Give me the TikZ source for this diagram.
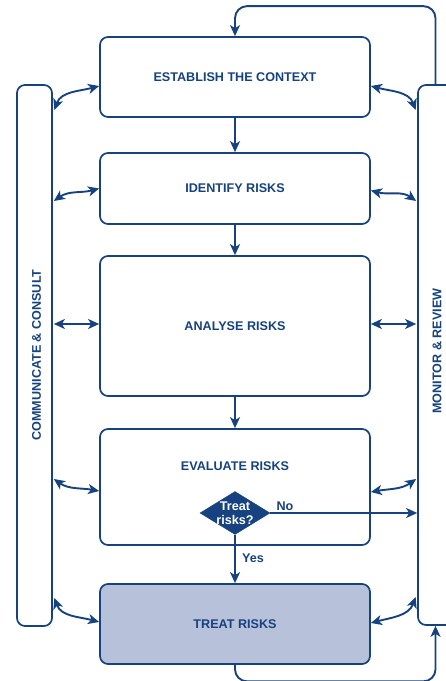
\documentclass[tikz,border=0pt]{standalone}
\usepackage{fontspec}
\setmainfont{Liberation Sans}
\usetikzlibrary{arrows.meta,shapes.geometric}
\definecolor{navy}{HTML}{16427F}
\definecolor{treatfill}{HTML}{B8C1DA}
\begin{document}
\begin{tikzpicture}[x=1pt,y=1pt,
  lbl/.style={font=\fontsize{12.6}{14}\selectfont\bfseries, text=navy},
  stage/.style={draw=navy, line width=1.7pt, rounded corners=8pt,
    minimum width=270pt, fill=white, lbl},
  sidebar/.style={draw=navy, line width=1.7pt, rounded corners=8pt, fill=white},
  tip/.style={Stealth[length=11pt,width=10pt,inset=3pt]},
  flow/.style={draw=navy, line width=1.9pt, -{Stealth[length=11pt,width=10pt,inset=3pt]}},
  link/.style={draw=navy, line width=1.9pt,
    {Stealth[length=11pt,width=10pt,inset=3pt]}-{Stealth[length=11pt,width=10pt,inset=3pt]}}]
\clip (0,0) rectangle (446,681);
\useasboundingbox (0,0) rectangle (446,681);

% side bars
\node[sidebar, minimum width=35pt, minimum height=541pt] (lbar) at (34.5,325.5) {};
\node[sidebar, minimum width=38pt, minimum height=540pt] (rbar) at (437,326) {};
\node[lbl, rotate=90] (lbartext) at (36.5,326) {COMMUNICATE \& CONSULT};
\node[lbl, rotate=90] (rbartext) at (437,330) {MONITOR \& REVIEW};

% process stages
\node[stage, minimum height=80pt] (est) at (235,604) {ESTABLISH THE CONTEXT};
\node[stage, minimum height=71pt] (ide) at (235,492.5) {IDENTIFY RISKS};
\node[stage, minimum height=140pt] (ana) at (235,355) {ANALYSE RISKS};
\node[stage, minimum height=116pt] (eva) at (235,194) {};
\node[lbl] (evatext) at (235,215) {EVALUATE RISKS};
\node[stage, minimum height=80pt, fill=treatfill] (tre) at (235,57) {TREAT RISKS};

% decision
\node[diamond, fill=navy, draw=navy, inner sep=0pt, minimum width=70pt,
  minimum height=43pt,
  label={[lbl, text=white, align=center, inner sep=0pt]center:Treat\\risks?}]
  (dec) at (235,168) {};
\node[lbl] (nolbl) at (285,175) {No};
\node[lbl] (yeslbl) at (253,123) {Yes};

% main flow
\draw[flow] (est) -- (ide);
\draw[flow] (ide) -- (ana);
\draw[flow] (ana) -- (eva.north);
\draw[flow] (dec.south) -- (tre);
\draw[flow] (dec.east) -- (rbar.west |- dec.east);

% feedback loops
\draw[flow, rounded corners=12pt] ([xshift=-1.5pt]rbar.north) -- ++(0,78) -| (est.north);
\draw[flow, rounded corners=12pt] (tre.south) -- ++(0,-16.5) -| ([xshift=-1.5pt]rbar.south);

% communicate & consult links
\coordinate (l1) at ([xshift=1.5pt]lbar.east |- 0,571);
\coordinate (l2) at ([xshift=1pt]lbar.east |- 0,480);
\coordinate (l3) at ([xshift=1pt]lbar.east |- 0,357);
\coordinate (l4) at ([xshift=1pt]lbar.east |- 0,202);
\coordinate (l5) at ([xshift=1.5pt]lbar.east |- 0,83);
\draw[link] (l1) to[out=70,in=195] ([yshift=-9pt]est.west);
\draw[link] (l2) to[out=35,in=195] (ide.west);
\draw[link] (l3) -- (ana.west |- l3);
\draw[link] (l4) to[out=-35,in=170] ([yshift=-4pt]eva.west);
\draw[link] (l5) to[out=-70,in=165] ([yshift=2pt]tre.west);

% monitor & review links
\coordinate (r1) at ([xshift=-1.5pt]rbar.west |- 0,571);
\coordinate (r2) at ([xshift=-1pt]rbar.west |- 0,480);
\coordinate (r3) at ([xshift=-1pt]rbar.west |- 0,357);
\coordinate (r4) at ([xshift=-1pt]rbar.west |- 0,202);
\coordinate (r5) at ([xshift=-1.5pt]rbar.west |- 0,84);
\draw[link] (r1) to[out=110,in=-15] ([yshift=-9pt]est.east);
\draw[link] (r2) to[out=145,in=-15] ([yshift=-2pt]ide.east);
\draw[link] (r3) -- (ana.east |- r3);
\draw[link] (r4) to[out=215,in=10] ([yshift=-5pt]eva.east);
\draw[link] (r5) to[out=250,in=15] ([yshift=1pt]tre.east);
\end{tikzpicture}
\end{document}
